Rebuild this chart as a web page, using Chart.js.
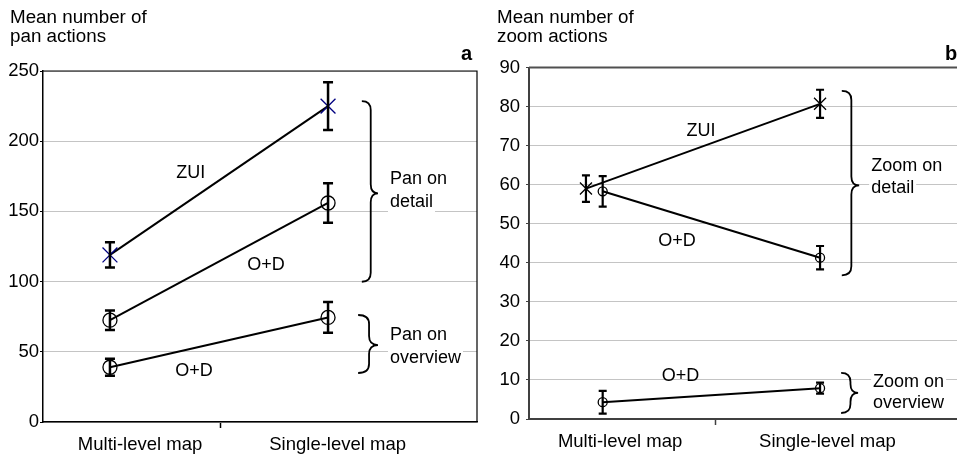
<!DOCTYPE html>
<html>
<head>
<meta charset="utf-8">
<script src="https://cdn.jsdelivr.net/npm/chart.js@4.4.1/dist/chart.umd.min.js"></script>
<style>
  html, body { margin: 0; padding: 0; background: #fff; }
  #wrap { position: relative; width: 957px; height: 457px; overflow: hidden; }
  canvas { position: absolute; top: 0; }
  #chartA { left: 0; }
  #chartB { left: 480px; }
</style>
</head>
<body>
<div id="wrap">
  <canvas id="chartA" width="480" height="457"></canvas>
  <canvas id="chartB" width="477" height="457"></canvas>
</div>
<script>
// values (means and error bar half-lengths)
const categories = ['Multi-level map', 'Single-level map'];

// panel a: pan actions
const panZuiDetail = [119, 225];
const panZuiDetailErr = [9, 17];
const panOdDetail = [72.5, 156];
const panOdDetailErr = [7, 14];
const panOdOverview = [39, 74.5];
const panOdOverviewErr = [6, 11];
const panTicks = [0, 50, 100, 150, 200, 250];

// panel b: zoom actions
const zoomZuiDetail = [59, 80.7];
const zoomZuiDetailErr = [3.4, 3.6];
const zoomOdDetail = [58.3, 41.3];
const zoomOdDetailErr = [3.9, 3.0];
const zoomOdOverview = [4.3, 7.9];
const zoomOdOverviewErr = [2.9, 1.4];
const zoomTicks = [0, 10, 20, 30, 40, 50, 60, 70, 80, 90];

const FONT = "'Liberation Sans', Arial, sans-serif";

// error bars, drawn with the chart's own scales
const errorBars = {
    id: 'errorBars',
    afterDatasetsDraw(chart) {
        const ctx = chart.ctx;
        const xs = chart.scales.x, ys = chart.scales.y;
        chart.data.datasets.forEach(ds => {
            ds.data.forEach((p, i) => {
                const x = xs.getPixelForValue(p.x);
                const y1 = ys.getPixelForValue(p.y + ds.err[i]);
                const y2 = ys.getPixelForValue(p.y - ds.err[i]);
                const w = ds.capWidth;
                ctx.save();
                ctx.strokeStyle = '#000';
                ctx.lineWidth = ds.errWidth;
                ctx.beginPath();
                ctx.moveTo(x, y1); ctx.lineTo(x, y2);
                ctx.moveTo(x - w, y1); ctx.lineTo(x + w, y1);
                ctx.moveTo(x - w, y2); ctx.lineTo(x + w, y2);
                ctx.stroke();
                ctx.restore();
            });
        });
    }
};

// curly brace pointing right
function brace(ctx, x0, x1, yTop, yTip, yBot) {
    const xs = x0 + (x1 - x0) * 0.55;
    const r = 9;
    ctx.beginPath();
    ctx.moveTo(x0, yTop);
    ctx.quadraticCurveTo(xs, yTop, xs, yTop + r);
    ctx.lineTo(xs, yTip - r);
    ctx.quadraticCurveTo(xs, yTip, x1, yTip);
    ctx.quadraticCurveTo(xs, yTip, xs, yTip + r);
    ctx.lineTo(xs, yBot - r);
    ctx.quadraticCurveTo(xs, yBot, x0, yBot);
    ctx.stroke();
}

// titles, panel letters, frame, text notes and braces
const notes = {
    id: 'notes',
    beforeDatasetsDraw(chart) {
        const o = chart.options.plugins.notes;
        const ctx = chart.ctx;
        const xs = chart.scales.x, ys = chart.scales.y;
        const a = chart.chartArea;
        ctx.save();
        // frame (top and maybe right)
        ctx.strokeStyle = o.frameColor;
        ctx.lineWidth = o.frameWidth;
        ctx.beginPath();
        ctx.moveTo(a.left, a.top);
        ctx.lineTo(a.right, a.top);
        if (o.rightFrame) ctx.lineTo(a.right, a.bottom);
        ctx.stroke();

        ctx.fillStyle = '#000';
        ctx.textBaseline = 'alphabetic';
        ctx.textAlign = 'left';
        ctx.font = '18.8px ' + FONT;
        o.title.forEach((t, i) => ctx.fillText(t, o.titleX, 22.5 + i * 19.5));
        ctx.font = 'bold 20px ' + FONT;
        ctx.fillText(o.letter, o.letterX, 60);

        // notes
        o.texts.forEach(t => {
            const x = xs.getPixelForValue(t.x);
            ctx.font = '18px ' + FONT;
            ctx.textAlign = t.align || 'center';
            ctx.textBaseline = 'middle';
            t.lines.forEach((line, i) => {
                const y = ys.getPixelForValue(t.y) + i * t.lh;
                if (t.box) {
                    const w = ctx.measureText(line).width;
                    ctx.fillStyle = '#fff';
                    ctx.fillRect(x - 2, y - 10, w + 4, 20);
                }
                ctx.fillStyle = '#000';
                ctx.fillText(line, x, y);
            });
        });

        ctx.strokeStyle = '#000';
        ctx.lineWidth = 1.8;
        o.braces.forEach(b => {
            brace(ctx, xs.getPixelForValue(b.x0), xs.getPixelForValue(b.x1),
                ys.getPixelForValue(b.top), ys.getPixelForValue(b.tip), ys.getPixelForValue(b.bot));
        });
        ctx.restore();
    }
};

function series(values, err, style) {
    return Object.assign({
        data: values.map((v, i) => ({ x: i + (style.dodge ? style.dodge[i] : 0), y: v })),
        err: err,
        borderColor: '#000',
        borderWidth: 2,
        pointBorderWidth: 1.3,
        pointBackgroundColor: 'rgba(0,0,0,0)',
        pointHoverRadius: 0,
        fill: false,
        tension: 0
    }, style);
}

function makeChart(id, cfg) {
    return new Chart(document.getElementById(id), {
        type: 'line',
        data: { datasets: cfg.datasets },
        options: {
            responsive: false,
            animation: false,
            devicePixelRatio: 1,
            layout: { padding: cfg.padding, autoPadding: false },
            plugins: {
                legend: { display: false },
                tooltip: { enabled: false },
                notes: cfg.notes
            },
            scales: {
                x: {
                    type: 'linear',
                    min: cfg.xMin, max: cfg.xMax,
                    afterFit: s => { s.height = cfg.xHeight; s.paddingLeft = 0; s.paddingRight = 0; },
                    afterBuildTicks: s => {
                        s.ticks = [{ value: cfg.labelAt[0] }, { value: cfg.midTick }, { value: cfg.labelAt[1] }];
                    },
                    ticks: {
                        autoSkip: false, maxRotation: 0, padding: 6,
                        color: '#000',
                        font: { family: FONT, size: 18.5 },
                        callback: (v, i) => i === 1 ? '' : categories[i / 2]
                    },
                    grid: {
                        drawOnChartArea: false,
                        tickLength: 6,
                        tickWidth: 1.5,
                        tickColor: c => c.index === 1 ? cfg.axisColor : 'rgba(0,0,0,0)'
                    },
                    border: { color: cfg.axisColor, width: cfg.axisWidth }
                },
                y: {
                    min: cfg.yTicks[0], max: cfg.yTicks[cfg.yTicks.length - 1],
                    afterFit: s => { s.width = cfg.yWidth; },
                    afterBuildTicks: s => { s.ticks = cfg.yTicks.map(v => ({ value: v })); },
                    ticks: {
                        padding: cfg.yPad,
                        color: '#000',
                        font: { family: FONT, size: 18.5 }
                    },
                    grid: {
                        color: '#c4c4c4',
                        lineWidth: 1,
                        tickLength: 3,
                        tickColor: cfg.axisColor
                    },
                    border: { color: cfg.axisColor, width: cfg.axisWidth }
                }
            }
        },
        plugins: [notes, errorBars]
    });
}

// panel a
makeChart('chartA', {
    padding: { top: 71, right: 3, left: 0, bottom: 0 },
    xMin: -0.307, xMax: 1.683, xHeight: 35, yWidth: 43, yPad: 1,
    labelAt: [0.138, 1.044], midTick: 0.509,
    axisColor: '#000', axisWidth: 1.5,
    yTicks: panTicks,
    datasets: [
        series(panZuiDetail, panZuiDetailErr, { pointStyle: 'crossRot', pointRadius: 10.5, pointBorderColor: '#000080', capWidth: 5, errWidth: 2.5 }),
        series(panOdDetail, panOdDetailErr, { pointStyle: 'circle', pointRadius: 7, pointBorderColor: '#000', capWidth: 5, errWidth: 2.5 }),
        series(panOdOverview, panOdOverviewErr, { pointStyle: 'circle', pointRadius: 7, pointBorderColor: '#000', capWidth: 5, errWidth: 2.5 })
    ],
    notes: {
        title: ['Mean number of', 'pan actions'], titleX: 10,
        letter: 'a', letterX: 461,
        frameColor: '#000', frameWidth: 1.2, rightFrame: true,
        texts: [
            { lines: ['ZUI'], x: 0.37, y: 177, lh: 0 },
            { lines: ['O+D'], x: 0.716, y: 111.5, lh: 0 },
            { lines: ['O+D'], x: 0.385, y: 36, lh: 0 },
            { lines: ['Pan on', 'detail'], x: 1.284, y: 172.9, lh: 23, align: 'left', box: true },
            { lines: ['Pan on', 'overview'], x: 1.284, y: 62, lh: 23, align: 'left', box: true }
        ],
        braces: [
            { x0: 1.155, x1: 1.229, top: 228.6, tip: 162.9, bot: 99.9 },
            { x0: 1.138, x1: 1.229, top: 76.2, tip: 54.8, bot: 34.9 }
        ]
    }
});

// panel b
makeChart('chartB', {
    padding: { top: 67.5, right: 0, left: 0, bottom: 0 },
    xMin: -0.339, xMax: 1.630, xHeight: 38, yWidth: 49, yPad: 6,
    labelAt: [0.08, 1.034], midTick: 0.521,
    axisColor: '#404040', axisWidth: 2,
    yTicks: zoomTicks,
    datasets: [
        series(zoomZuiDetail, zoomZuiDetailErr, { dodge: [-0.077, 0], pointStyle: 'crossRot', pointRadius: 8.5, pointBorderColor: '#000', capWidth: 4, errWidth: 2.2 }),
        series(zoomOdDetail, zoomOdDetailErr, { pointStyle: 'circle', pointRadius: 4.5, pointBorderColor: '#000', capWidth: 4, errWidth: 2.2 }),
        series(zoomOdOverview, zoomOdOverviewErr, { pointStyle: 'circle', pointRadius: 4.5, pointBorderColor: '#000', capWidth: 4, errWidth: 2.2 })
    ],
    notes: {
        title: ['Mean number of', 'zoom actions'], titleX: 17,
        letter: 'b', letterX: 465,
        frameColor: '#505050', frameWidth: 2, rightFrame: false,
        texts: [
            { lines: ['ZUI'], x: 0.452, y: 73.8, lh: 0 },
            { lines: ['O+D'], x: 0.342, y: 45.6, lh: 0 },
            { lines: ['O+D'], x: 0.358, y: 11, lh: 0 },
            { lines: ['Zoom on', 'detail'], x: 1.235, y: 64.8, lh: 22, align: 'left', box: true },
            { lines: ['Zoom on', 'overview'], x: 1.244, y: 9.4, lh: 21, align: 'left', box: true }
        ],
        braces: [
            { x0: 1.1, x1: 1.18, top: 84, tip: 59.8, bot: 36.8 },
            { x0: 1.097, x1: 1.175, top: 11.8, tip: 6.67, bot: 1.54 }
        ]
    }
});
</script>
</body>
</html>
